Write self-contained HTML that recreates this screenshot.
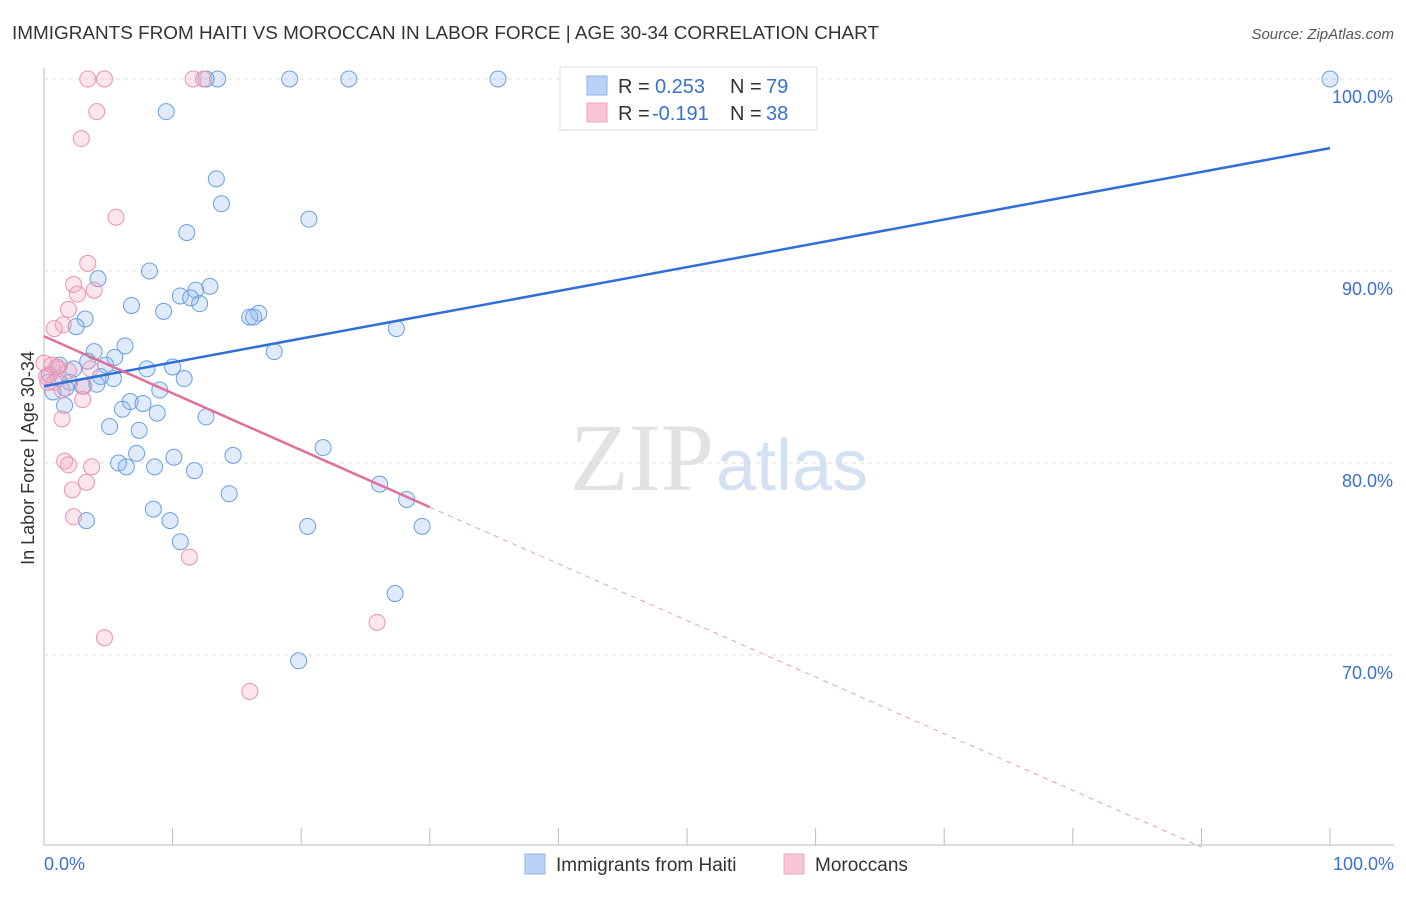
<!DOCTYPE html>
<html><head><meta charset="utf-8"><style>
body{margin:0;background:#fff;font-family:"Liberation Sans",sans-serif;}
</style></head><body>
<svg width="1406" height="892" xmlns="http://www.w3.org/2000/svg" font-family="Liberation Sans, sans-serif">
<text x="12" y="39" font-size="18" fill="#333" textLength="867" lengthAdjust="spacingAndGlyphs">IMMIGRANTS FROM HAITI VS MOROCCAN IN LABOR FORCE | AGE 30-34 CORRELATION CHART</text>
<text x="1394" y="39" font-size="15" fill="#555" font-style="italic" text-anchor="end">Source: ZipAtlas.com</text>
<g id="grid"></g>
<text x="714" y="490" font-size="96" fill="#e2e2e2" text-anchor="end" font-family="Liberation Serif, serif">ZIP</text>
<text x="716" y="490" font-size="72" fill="#d3e1f3">atlas</text>
<text transform="translate(34,458) rotate(-90)" font-size="18" fill="#333" text-anchor="middle">In Labor Force | Age 30-34</text>
<g id="pts"></g>
<g id="lines"></g>
<g>
<rect x="560" y="67" width="257" height="63" fill="#fff" stroke="#ddd"/>
<rect x="587" y="76" width="20" height="19" fill="#b8d3f5" stroke="#8fb5e8"/>
<text x="618" y="93" font-size="20" fill="#333">R =</text>
<text x="655" y="93" font-size="20" fill="#3a70d0">0.253</text>
<text x="730" y="93" font-size="20" fill="#333">N =</text>
<text x="766" y="93" font-size="20" fill="#3a70d0">79</text>
<rect x="587" y="103" width="20" height="19" fill="#f8c5d5" stroke="#eea5bd"/>
<text x="618" y="120" font-size="20" fill="#333">R =</text>
<text x="652" y="120" font-size="20" fill="#3a70d0">-0.191</text>
<text x="730" y="120" font-size="20" fill="#333">N =</text>
<text x="766" y="120" font-size="20" fill="#3a70d0">38</text>
</g>
<g>
<rect x="525" y="854" width="20" height="20" fill="#b8d3f5" stroke="#8fb5e8"/>
<text x="556" y="871" font-size="19" fill="#333">Immigrants from Haiti</text>
<rect x="784" y="854" width="20" height="20" fill="#f8c5d5" stroke="#eea5bd"/>
<text x="815" y="871" font-size="19" fill="#333">Moroccans</text>
</g>
<text x="44" y="870" font-size="18" fill="#3a70d0">0.0%</text>
<text x="1394" y="870" font-size="18" fill="#3a70d0" text-anchor="end">100.0%</text>
</svg>
<script>
const yTicks=[100,90,80,70];
const yTickLabels=["100.0%","90.0%","80.0%","70.0%"];
const haitiX=[100,35.3,23.7,19.1,13.5,12.6,9.5,13.4,13.8,20.6,11.1,8.2,4.2,12.9,11.8,10.6,11.4,12.1,6.8,9.3,3.2,16.7,16,16.3,2.5,27.4,6.3,3.9,17.9,5.5,3.4,4.8,8,10,1.2,2.3,0.4,1.1,5.4,4.4,2,3,4.1,10.9,9,0.7,1.7,6.7,7.7,6.1,8.8,1.6,12.6,5.1,7.4,21.7,7.2,14.7,10.1,5.8,6.4,8.6,11.7,14.4,26.1,28.2,8.5,3.3,9.8,20.5,29.4,10.6,27.3,19.8];
const haitiY=[100,100,100,100,100,100,98.3,94.8,93.5,92.7,92,90,89.6,89.2,89,88.7,88.6,88.3,88.2,87.9,87.5,87.8,87.6,87.6,87.1,87,86.1,85.8,85.8,85.5,85.3,85.1,84.9,85,85.1,84.9,84.6,84.4,84.4,84.5,84.2,84,84.1,84.4,83.8,83.7,83.9,83.2,83.1,82.8,82.6,83,82.4,81.9,81.7,80.8,80.5,80.4,80.3,80,79.8,79.8,79.6,78.4,78.9,78.1,77.6,77,77,76.7,76.7,75.9,73.2,69.7];
const morX=[3.4,4.7,11.6,12.4,4.1,2.9,5.6,3.4,2.3,3.9,2.6,1.9,1.5,0.8,0,0.6,1.1,0.2,1.9,3.6,0.8,1.4,3.1,3,1.4,1.6,1.9,3.7,3.3,2.2,2.3,11.3,4.7,25.9,16,1,0.3];
const morY=[100,100,100,100,98.3,96.9,92.8,90.4,89.3,89,88.8,88,87.2,87,85.2,85.1,84.9,84.5,84.8,84.9,84.2,83.8,84,83.3,82.3,80.1,79.9,79.8,79,78.6,77.2,75.1,70.9,71.7,68.1,85,84.2];
const haitiTrend=[[0,84],[100,96.4]];
const morTrendSolid=[[0,86.6],[30,77.7]];
const morTrendDash=[[30,77.7],[90,60]];
const NS="http://www.w3.org/2000/svg";
const X0=44,X1=1330,YT=79;
const sx=v=>X0+(X1-X0)*v/100;
const sy=v=>YT+(100-v)*19.2;
function mk(tag,a,parent){const e=document.createElementNS(NS,tag);for(const k in a)e.setAttribute(k,a[k]);document.getElementById(parent).appendChild(e);return e;}
let ax=mk('line',{x1:44,y1:68,x2:44,y2:845,stroke:'#bbb'},'grid');


let bx=mk('line',{x1:44,y1:845,x2:1394,y2:845,stroke:'#bbb'},'grid');


for(let i=1;i<=10;i++){const t=mk('line',{x1:44+i*128.6,y1:828,x2:44+i*128.6,y2:845,stroke:'#bbb'},'grid');

}
yTicks.forEach((v,i)=>{const g=mk('line',{x1:44,y1:sy(v),x2:1394,y2:sy(v),stroke:'#ddd','stroke-dasharray':'4,4'},'grid');


const t=mk('text',{x:1393,y:sy(v)+24,'font-size':18,fill:'#3a70d0','text-anchor':'end'},'grid');t.textContent=yTickLabels[i];

});
haitiX.forEach((x,i)=>{const c=mk('circle',{cx:sx(x),cy:sy(haitiY[i]),r:8,fill:'rgba(150,190,240,0.3)',stroke:'#6a9fe0','stroke-width':1},'pts');

});
morX.forEach((x,i)=>{const c=mk('circle',{cx:sx(x),cy:sy(morY[i]),r:8,fill:'rgba(245,170,195,0.3)',stroke:'#eb92b0','stroke-width':1},'pts');

});
let l1=mk('line',{x1:sx(haitiTrend[0][0]),y1:sy(haitiTrend[0][1]),x2:sx(haitiTrend[1][0]),y2:sy(haitiTrend[1][1]),stroke:'#2f6fd6','stroke-width':2.5},'lines');


let l2=mk('line',{x1:sx(morTrendSolid[0][0]),y1:sy(morTrendSolid[0][1]),x2:sx(morTrendSolid[1][0]),y2:sy(morTrendSolid[1][1]),stroke:'#e0709a','stroke-width':2.5},'lines');


let l3=mk('line',{x1:sx(morTrendDash[0][0]),y1:sy(morTrendDash[0][1]),x2:sx(morTrendDash[1][0]),y2:sy(morTrendDash[1][1]),stroke:'#e8a0ba','stroke-width':1,'stroke-dasharray':'5,5'},'lines');


</script>
</body></html>
